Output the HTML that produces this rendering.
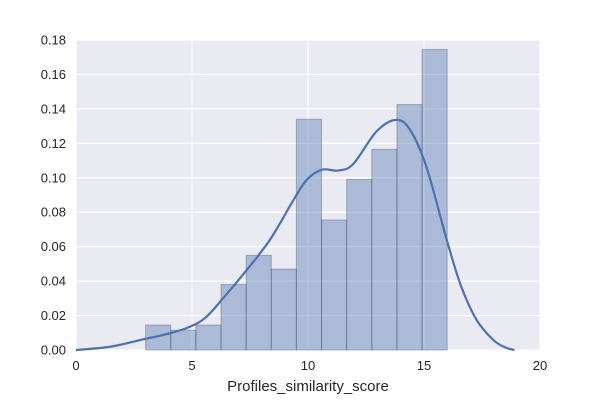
<!DOCTYPE html>
<html><head><meta charset="utf-8"><style>
html,body{margin:0;padding:0;background:#fff;}
svg{display:block;font-family:"Liberation Sans",sans-serif;}
</style></head><body>
<svg id="chart" width="600" height="400"></svg>
<script>
const binStart = 3;
const binWidth = 13/12;
const barHeights = [0.0145,0.0115,0.0145,0.038,0.055,0.047,0.134,0.0755,0.099,0.1165,0.1425,0.1745];
const kdeX = [0,1.47,2.9,4.05,4.91,5.6,6.4,7.36,8.36,9.37,9.94,10.6,11.3,11.95,12.96,13.8,14.4,15.1,15.98,16.6,17.27,17.99,18.5,18.9];
const kdeY = [0,0.0019,0.0062,0.0097,0.0135,0.019,0.031,0.0465,0.064,0.087,0.0987,0.1047,0.1042,0.108,0.127,0.1336,0.1278,0.1065,0.064,0.037,0.0174,0.0058,0.0015,0];
const xTicks = [0,5,10,15,20];
const yTicks = [0,0.02,0.04,0.06,0.08,0.10,0.12,0.14,0.16,0.18];
const yTickLabels = ["0.00","0.02","0.04","0.06","0.08","0.10","0.12","0.14","0.16","0.18"];

const L=76,R=540,T=40,B=350;
const sx=v=>L+(v-0)/(20-0)*(R-L);
const sy=v=>B-(v/0.18)*(B-T);
const NS="http://www.w3.org/2000/svg";
const svg=document.getElementById('chart');
function mk(tag,attrs,parent){const e=document.createElementNS(NS,tag);for(const k in attrs)e.setAttribute(k,attrs[k]);(parent||svg).appendChild(e);return e;}

const bg=mk('rect',{x:L,y:T,width:R-L,height:B-T,fill:'#eaeaf2'});



yTicks.forEach((t,i)=>{
  const g=mk('line',{x1:L,x2:R,y1:sy(t),y2:sy(t),stroke:'#fff','stroke-width':1.2});
  
  
  const tx=mk('text',{x:L-10,y:sy(t)+4.5,'text-anchor':'end','font-size':13,fill:'#262626'});
  tx.textContent=yTickLabels[i];
  
  
});
xTicks.forEach(t=>{
  const g=mk('line',{x1:sx(t),x2:sx(t),y1:T,y2:B,stroke:'#fff','stroke-width':1.2});
  
  
  const tx=mk('text',{x:sx(t),y:B+20,'text-anchor':'middle','font-size':13,fill:'#262626'});
  tx.textContent=String(t);
  
  
});

barHeights.forEach((h,i)=>{
  const x0=binStart+i*binWidth;
  const r=mk('rect',{x:sx(x0),y:sy(h),width:sx(x0+binWidth)-sx(x0),height:sy(0)-sy(h),fill:'rgba(76,114,176,0.4)',stroke:'rgba(60,70,100,0.35)','stroke-width':1});
  
  
});

const pts=kdeX.map((x,i)=>[sx(x),sy(kdeY[i])]);
let d='M'+pts[0][0]+','+pts[0][1];
for(let i=0;i<pts.length-1;i++){
  const p0=pts[Math.max(0,i-1)],p1=pts[i],p2=pts[i+1],p3=pts[Math.min(pts.length-1,i+2)];
  const c1=[p1[0]+(p2[0]-p0[0])/6,p1[1]+(p2[1]-p0[1])/6];
  const c2=[p2[0]-(p3[0]-p1[0])/6,p2[1]-(p3[1]-p1[1])/6];
  d+=` C${c1[0]},${c1[1]} ${c2[0]},${c2[1]} ${p2[0]},${p2[1]}`;
}
const kde=mk('path',{d:d,fill:'none',stroke:'#4c72b0','stroke-width':2.2,'stroke-linejoin':'round'});



const xt=mk('text',{x:(L+R)/2,y:391,'text-anchor':'middle','font-size':15,fill:'#262626'});
xt.textContent='Profiles_similarity_score';


</script>
</body></html>
